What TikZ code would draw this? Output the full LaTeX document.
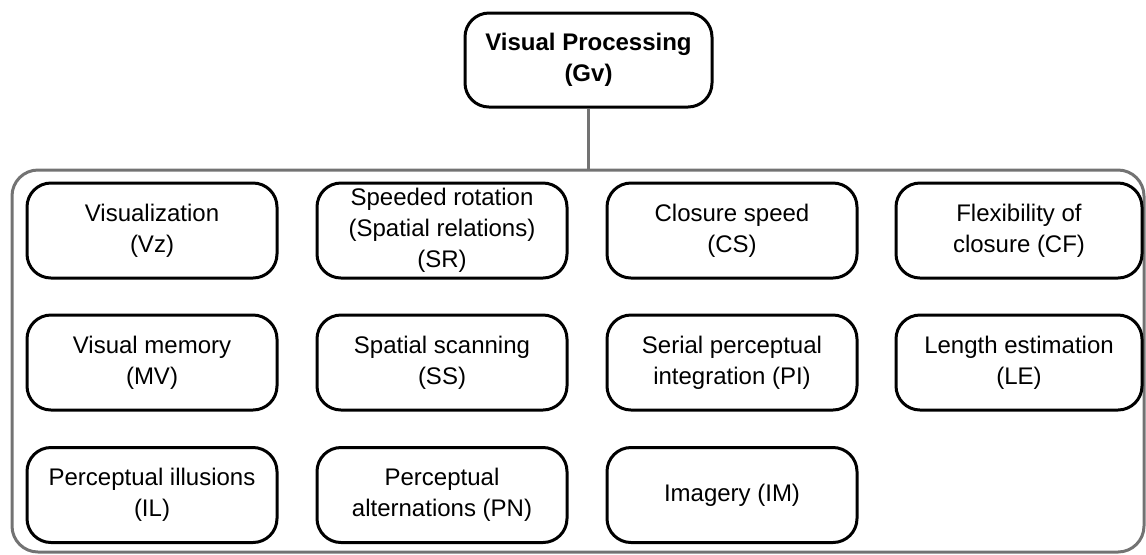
\documentclass[tikz,border=0pt]{standalone}
\usepackage{fontspec}
\setmainfont{Liberation Sans}
\usepackage{tikz}
\usetikzlibrary{positioning, calc}
\tikzset{
  skill/.style = {draw, line width=1.5pt, rounded corners=12pt, align=center,
                  minimum width=125pt, minimum height=47.5pt, inner sep=2pt,
                  font=\fontsize{12}{15.5}\selectfont},
  link/.style = {line width=1.5pt}
}

\begin{document}
\begin{tikzpicture}[x=0.5pt, y=-0.5pt]
  \colorlet{frameGray}{black!55}
  \tikzset{
    rootStyle/.style={skill, minimum width=123.5pt, minimum height=47pt,
                      font=\fontsize{12}{15.5}\selectfont\bfseries},
    groupStyle/.style={draw=frameGray, line width=1.5pt, rounded corners=13pt,
                       minimum width=566pt, minimum height=191pt, inner sep=0pt}
  }

  \useasboundingbox (0,0) rectangle (1146,554);

  \def\ColA{152}
  \def\ColB{442}
  \def\ColC{732}
  \def\ColD{1019}
  \def\RowA{230.5}
  \def\RowB{362.5}
  \def\RowC{495}

  \node[rootStyle] (gv) at (588.5,60) {Visual Processing\\(Gv)};
  \node[groupStyle] (group) at (578,361) {};
  \draw[link, frameGray] (gv.south) -- (gv.south |- group.north);

  \node[skill] (vz) at (\ColA,\RowA) {Visualization\\(Vz)};
  \node[skill] (sr) at (\ColB,\RowA) {Speeded rotation\\(Spatial relations)\\(SR)};
  \node[skill] (cs) at (\ColC,\RowA) {Closure speed\\(CS)};
  \node[skill, minimum width=123pt] (cf) at (\ColD,\RowA) {Flexibility of\\closure (CF)};

  \node[skill] (mv) at (\ColA,\RowB) {Visual memory\\(MV)};
  \node[skill] (ss) at (\ColB,\RowB) {Spatial scanning\\(SS)};
  \node[skill] (pi) at (\ColC,\RowB) {Serial perceptual\\integration (PI)};
  \node[skill, minimum width=123pt] (le) at (\ColD,\RowB) {Length estimation\\(LE)};

  \node[skill] (il) at (\ColA,\RowC) {Perceptual illusions\\(IL)};
  \node[skill] (pn) at (\ColB,\RowC) {Perceptual\\alternations (PN)};
  \node[skill] (im) at (\ColC,\RowC) {Imagery (IM)};
\end{tikzpicture}
\end{document}
